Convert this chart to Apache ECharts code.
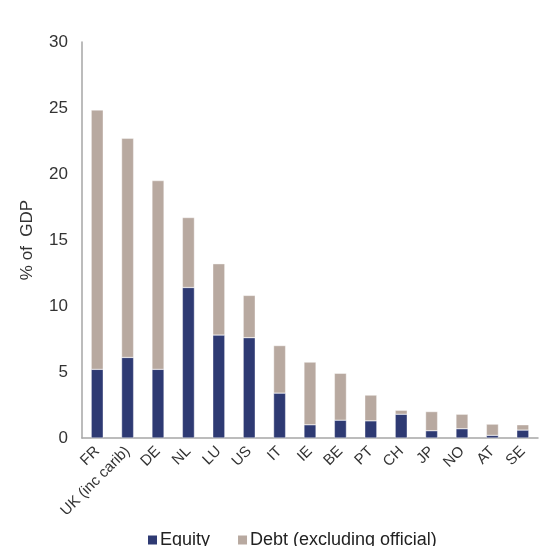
<!DOCTYPE html>
<html><head><meta charset="utf-8">
<script src="https://cdn.jsdelivr.net/npm/echarts@6/dist/echarts.min.js"></script>
<style>html,body{margin:0;padding:0;background:#fff}#c{width:548px;height:546px}</style>
</head><body><div id="c"></div>
<script>
const categories = ['FR','UK (inc carib)','DE','NL','LU','US','IT','IE','BE','PT','CH','JP','NO','AT','SE'];
const equity = [5.2, 6.1, 5.2, 11.4, 7.8, 7.6, 3.4, 1.0, 1.35, 1.3, 1.8, 0.55, 0.7, 0.2, 0.6];
const debt = [19.65, 16.6, 14.3, 5.3, 5.4, 3.2, 3.6, 4.75, 3.55, 1.95, 0.3, 1.45, 1.1, 0.85, 0.4];
const yTicks = [0, 5, 10, 15, 20, 25, 30];

const chart = echarts.init(document.getElementById('c'), null, {renderer: 'canvas'});
const font = 'Liberation Sans, Arial, sans-serif';
chart.setOption({
  animation: false,
  textStyle: {fontFamily: font},
  grid: {left: 82, right: 10, top: 42, bottom: 108, containLabel: false},
  legend: {
    bottom: -8, left: 141,
    itemWidth: 11, itemHeight: 11, itemGap: 26,
    icon: 'rect',
    textStyle: {fontSize: 18, color: '#222', fontFamily: font, padding: [0, 0, 0, -3]},
    data: ['Equity', 'Debt (excluding official)']
  },
  xAxis: {
    type: 'category', data: categories,
    axisLine: {lineStyle: {color: '#A6A6A6', width: 1.5}},
    axisTick: {show: false},
    axisLabel: {rotate: 45, interval: 0, fontSize: 15, color: '#333', margin: 11, fontFamily: font}
  },
  yAxis: {
    type: 'value', min: yTicks[0], max: yTicks[yTicks.length - 1], interval: 5,
    name: '% of  GDP', nameLocation: 'middle', nameGap: 46,
    nameTextStyle: {fontSize: 17, color: '#333', fontFamily: font},
    axisLine: {show: true, lineStyle: {color: '#A6A6A6', width: 1.5}},
    axisTick: {show: false},
    splitLine: {show: false},
    axisLabel: {fontSize: 17, color: '#333', margin: 14, fontFamily: font}
  },
  series: [
    {name: 'Equity', type: 'bar', stack: 's', data: equity, barWidth: 12,
     itemStyle: {color: '#2E3A73', borderColor: '#fff', borderWidth: 0.4}},
    {name: 'Debt (excluding official)', type: 'bar', stack: 's', data: debt, barWidth: 12,
     itemStyle: {color: '#B8A9A0', borderColor: '#fff', borderWidth: 0.4}}
  ]
});
</script></body></html>
